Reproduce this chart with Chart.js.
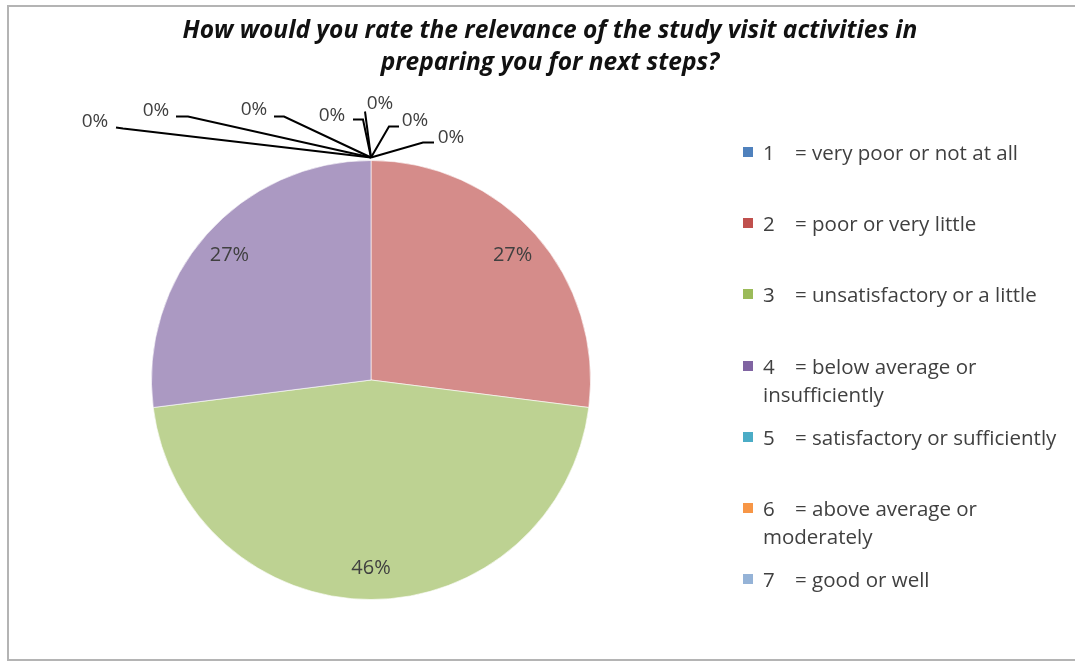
<!DOCTYPE html>
<html>
<head>
<meta charset="utf-8">
<script src="https://cdn.jsdelivr.net/npm/chart.js@4.4.1/dist/chart.umd.min.js"></script>
<style>
    html, body {
        margin: 0;
        padding: 0;
        background: #fff;
    }
    #wrap {
        position: relative;
        width: 1075px;
        height: 661px;
        overflow: hidden;
        font-family: "Open Sans", Lato, sans-serif;
    }
    #frame {
        position: absolute;
        left: 7px;
        top: 5px;
        width: 1080px;
        height: 652px;
        border: 2px solid #b4b4b4;
        border-right: none;
    }
    #pie {
        position: absolute;
        left: 0;
        top: 0;
    }
    #title {
        position: absolute;
        left: 140px;
        width: 820px;
        top: 13px;
        text-align: center;
        font-weight: bold;
        font-style: italic;
        font-size: 24.5px;
        line-height: 32px;
        color: #111;
        white-space: nowrap;
    }
    #legend .item {
        position: absolute;
        left: 743px;
        font-size: 20.5px;
        line-height: 28px;
        color: #404040;
    }
    #legend .box {
        position: absolute;
        left: 0;
        top: 9px;
        width: 10px;
        height: 10px;
    }
    #legend .txt {
        margin-left: 20px;
        white-space: nowrap;
    }
    #legend .num {
        display: inline-block;
        width: 32px;
    }
</style>
</head>
<body>
<div id="wrap">
    <div id="frame"></div>
    <canvas id="pie" width="1075" height="661"></canvas>
    <div id="title"></div>
    <div id="legend"></div>
</div>

<script>
// rating scale answers
const ratings = ["1", "2", "3", "4", "5", "6", "7", "8", "9", "10"];
const ratingText = [
    ["= very poor or not at all"],
    ["= poor or very little"],
    ["= unsatisfactory or a little"],
    ["= below average or", "insufficiently"],
    ["= satisfactory or sufficiently"],
    ["= above average or", "moderately"],
    ["= good or well"]
];
// share of answers, percent
const shares = [0, 27, 46, 27, 0, 0, 0, 0, 0, 0];

const seriesColors = ["#4F81BD", "#C0504D", "#9BBB59", "#8064A2", "#4BACC6", "#F79646", "#95B3D7",
                      "#7F7F7F", "#A5A5A5", "#D9D9D9"];
const titleLines = [
    "How would you rate the relevance of the study visit activities in",
    "preparing you for next steps?"
];

// slices are drawn a bit washed out
function fade(hex, a) {
    const n = parseInt(hex.slice(1), 16);
    return `rgba(${(n >> 16) & 255}, ${(n >> 8) & 255}, ${n & 255}, ${a})`;
}

document.getElementById("title").innerHTML = titleLines.join("<br>");

// legend: only the seven scale points
document.getElementById("legend").innerHTML = ratingText.map((lines, i) => `
    <div class="item" style="top:${138 + i * 71.2}px">
        <div class="box" style="background:${seriesColors[i]}"></div>
        <div class="txt"><span class="num">${ratings[i]}</span>${lines.join("<br>")}</div>
    </div>`).join("");

// value labels: inside the slice, or on leader lines for the empty ones
const sliceLabels = {
    id: "sliceLabels",
    afterDatasetsDraw(chart, args, opts) {
        const ctx = chart.ctx;
        const arcs = chart.getDatasetMeta(0).data;
        ctx.save();
        ctx.fillStyle = "#404040";
        ctx.textAlign = "center";
        ctx.textBaseline = "middle";

        let z = 0;
        arcs.forEach((arc, i) => {
            const v = shares[i];
            if (v > 0) {
                const mid = (arc.startAngle + arc.endAngle) / 2;
                const r = arc.outerRadius * 0.86;
                ctx.font = "20px 'Open Sans', sans-serif";
                ctx.fillText(v + "%", arc.x + Math.cos(mid) * r, arc.y + Math.sin(mid) * r);
                return;
            }
            const spot = opts.zeroSpots[z++];
            if (!spot) return;
            const ax = arc.x + Math.cos(arc.startAngle) * (arc.outerRadius + 3);
            const ay = arc.y + Math.sin(arc.startAngle) * (arc.outerRadius + 3);

            ctx.strokeStyle = "#000";
            ctx.lineWidth = 2;
            ctx.beginPath();
            ctx.moveTo(ax, ay);
            spot.path.forEach(p => ctx.lineTo(ax + p[0], ay + p[1]));
            ctx.stroke();

            ctx.font = "19px 'Open Sans', sans-serif";
            ctx.fillText(v + "%", ax + spot.text[0], ay + spot.text[1]);
        });
        ctx.restore();
    }
};

new Chart(document.getElementById("pie"), {
    type: "pie",
    data: {
        labels: ratings,
        datasets: [{
            data: shares,
            backgroundColor: seriesColors.map(c => fade(c, 0.66)),
            borderColor: "rgba(255,255,255,0.6)",
            borderWidth: 1,
            hoverOffset: 0
        }]
    },
    options: {
        responsive: false,
        animation: false,
        layout: {
            padding: { left: 151, right: 484, top: 160, bottom: 61 }
        },
        plugins: {
            legend: { display: false },
            tooltip: { enabled: false },
            sliceLabels: {
                // leader lines of the 0% labels, going round from the right
                zeroSpots: [
                    { path: [[52, -15], [63, -15]], text: [80, -20] },
                    { path: [[-8, -38], [-18, -38]], text: [-39, -42] },
                    { path: [[-87, -41], [-97, -41]], text: [-117, -48] },
                    { path: [[-183, -41], [-195, -41]], text: [-215, -47] },
                    { path: [[-248, -29], [-255, -30]], text: [-276, -36] },
                    { path: [[-6, -46]], text: [9, -54] },
                    { path: [[18, -31], [28, -31]], text: [44, -37] }
                ]
            }
        }
    },
    plugins: [sliceLabels]
});
</script>
</body>
</html>
